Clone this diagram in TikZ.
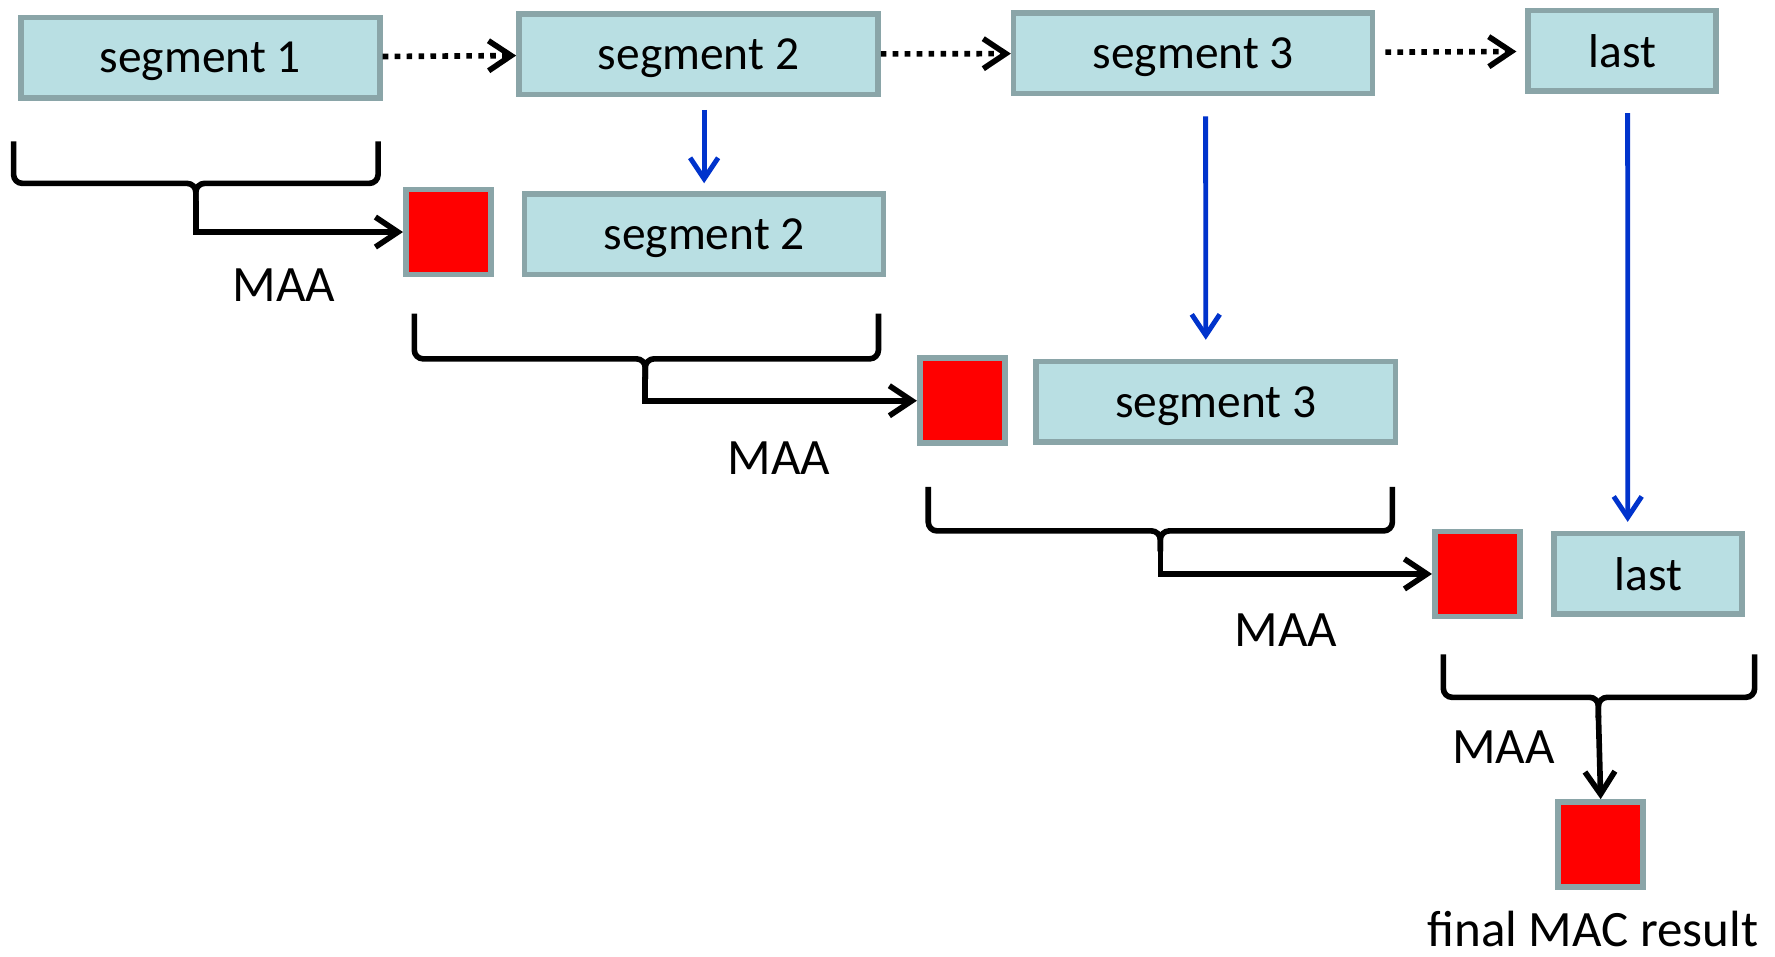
\documentclass[tikz,border=0pt]{standalone}
\usepackage{fontspec}
\setmainfont{Carlito}
\usetikzlibrary{arrows.meta}
\definecolor{segfill}{RGB}{185,223,227}
\definecolor{segline}{RGB}{138,165,168}
\definecolor{flowblue}{RGB}{0,51,204}

\begin{document}
\begin{tikzpicture}[x=0.2264mm, y=-0.2264mm,
    seg/.style={draw=segline, fill=segfill, line width=3.2pt, minimum width=71.8mm,
      minimum height=16.1mm, inner sep=0pt, text depth=0pt, font=\fontsize{27}{32}\selectfont},
    lastseg/.style={seg, minimum width=37.6mm},
    mac/.style={draw=segline, fill=red, line width=3.2pt, minimum size=17mm, inner sep=0pt},
    chain/.style={-{Straight Barb[length=4.5mm,width=6mm]}, line width=3.2pt,
      dash pattern=on 3.2pt off 3.6pt},
    flow/.style={-{Straight Barb[length=4.2mm,width=5.6mm]}, flowblue, line width=2.8pt},
    brc/.style={line width=3.2pt, rounded corners=5pt},
    maa/.style={-{Straight Barb[length=4.5mm,width=6mm]}, line width=3.2pt},
    lbl/.style={font=\fontsize{29}{34}\selectfont}]
      \useasboundingbox (0,0) rectangle (1568,845);

      % first row
      \node[seg] (s1) at (177,51) {segment 1};
      \node[seg] (s2) at (617,48) {segment 2};
      \node[seg] (s3) at (1054,47) {segment 3};
      \node[lastseg] (l1) at (1433,45) {last};
      \draw[chain] (s1) -- (s2);
      \draw[chain] (s2) -- (s3);
      \draw[chain, shorten <=2mm, shorten >=1.8mm] (s3) -- (l1);

      % staircase
      \node[mac] (r1) at (396,205) {};
      \node[seg] (s2b) at (622,207) {segment 2};
      \node[mac] (r2) at (850,354) {};
      \node[seg] (s3b) at (1074,355) {segment 3};
      \node[mac] (r3) at (1305,507) {};
      \node[lastseg] (l2) at (1456,507) {last};
      \node[mac] (r4) at (1414,746) {};

      \draw[flow, shorten <=2.5mm, shorten >=1.6mm] (s2b.north |- s2.south) -- (s2b.north);
      \draw[flow, shorten <=4mm, shorten >=3.8mm] ([xshift=2.5mm]s3.south) -- ([xshift=-2mm]s3b.north);
      \draw[flow, shorten <=3.8mm, shorten >=1.8mm] ([xshift=1.1mm]l1.south) -- ([xshift=-4.1mm]l2.north);

      % braces
      \draw[brc] (12,125) -- (12,162) -- (173,162) -- (173,180);
      \draw[brc] (334,125) -- (334,162) -- (173,162) -- (173,180);
      \coordinate (b1) at (173,178);
      \draw[maa] (b1) |- (r1.west);
      \node[lbl] (m1) at (251,252) {MAA};

      \draw[brc] (366,277) -- (366,317) -- (570,317) -- (570,335);
      \draw[brc] (776,277) -- (776,317) -- (570,317) -- (570,335);
      \coordinate (b2) at (570,333);
      \draw[maa] (b2) |- (r2.west);
      \node[lbl] (m2) at (688,405) {MAA};

      \draw[brc] (820,430) -- (820,469) -- (1025,469) -- (1025,487);
      \draw[brc] (1230,430) -- (1230,469) -- (1025,469) -- (1025,487);
      \coordinate (b3) at (1025,485);
      \draw[maa] (b3) |- (r3.west);
      \node[lbl] (m3) at (1136,557) {MAA};

      \draw[brc] (1275,578) -- (1275,616) -- (1412,616) -- (1412,634);
      \draw[brc] (1550,578) -- (1550,616) -- (1412,616) -- (1412,634);
      \coordinate (b4) at (1412,632);
      \draw[maa] (b4) -- (r4.north);
      \node[lbl] (m4) at (1328,660) {MAA};

      \node[lbl] (res) at (1407,821) {final MAC result};

    \end{tikzpicture}
\end{document}
